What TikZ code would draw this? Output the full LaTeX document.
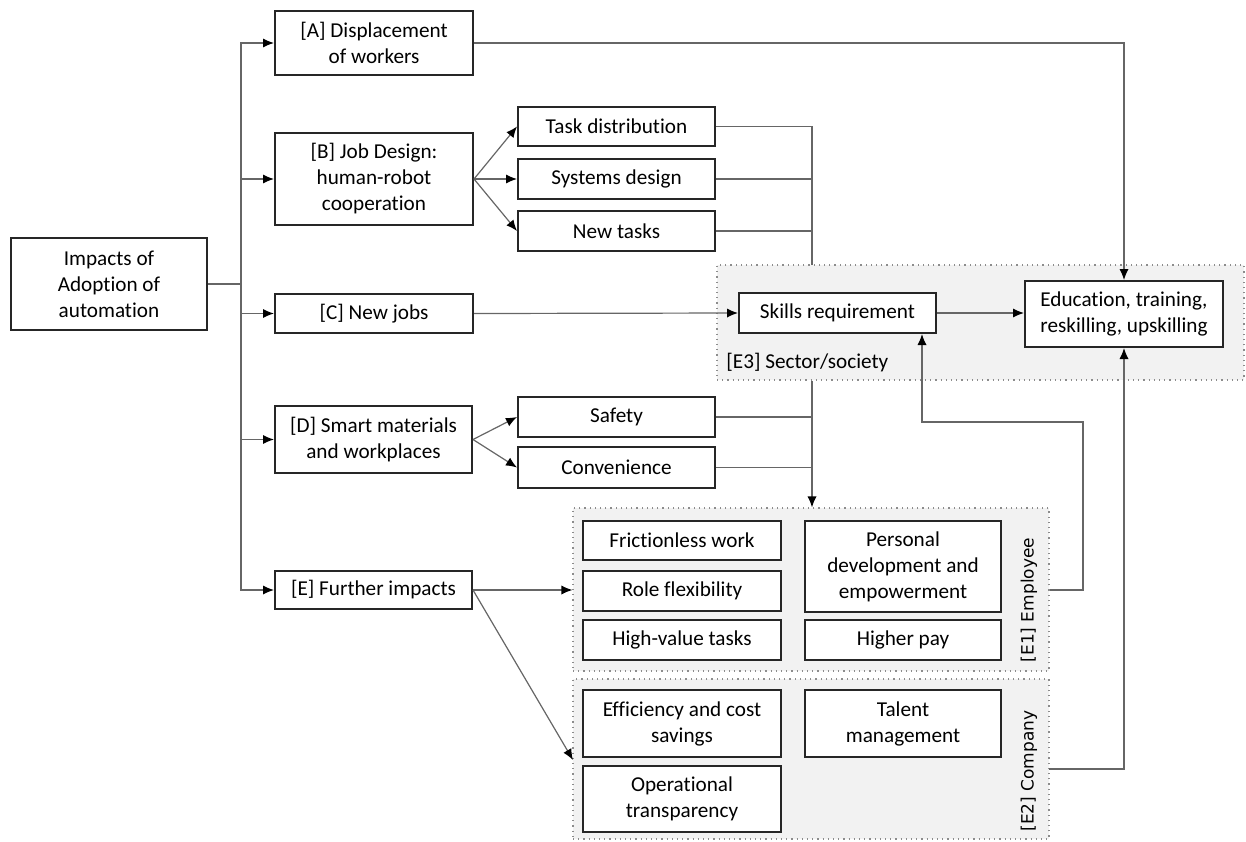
\documentclass[tikz,border=0pt]{standalone}
\usepackage{fontspec}
\setmainfont[Ligatures={NoCommon,NoRare,NoContextual}]{Carlito}
\newfontfamily\vfont{DejaVu Sans}
\usetikzlibrary{arrows.meta}
\tikzset{
 box/.style={draw=black!85, line width=1pt, fill=white, align=center, inner sep=0pt, font=\fontsize{10.6}{13}\selectfont},
 frame/.style={draw=black!45, dotted, line width=0.6pt, fill=black!5, inner sep=0pt},
 conn/.style={draw=black!60, line width=0.6pt},
 arr/.style={conn, -{Latex[length=5.5pt,width=4.6pt,color=black]}},
 vlab/.style={rotate=90, font=\vfont\fontsize{8.5}{10}\selectfont, text=black},
 flab/.style={anchor=west, inner sep=0pt, font=\fontsize{10.6}{13}\selectfont, text=black},
}
\newcommand\rbox[7][box]{\node[#1, minimum width={(#5-#3)*0.5pt}, minimum height={(#6-#4)*0.5pt}] (#2) at ({(#3+#5)/2},{(#4+#6)/2}) {#7};}
\begin{document}
\begin{tikzpicture}[x=0.5pt,y=-0.5pt]
\useasboundingbox (0,0) rectangle (1246,841);
% frames
\rbox[frame]{e3}{717}{265}{1244}{380}{}
\rbox[frame]{e1}{573}{508}{1049}{671}{}
\rbox[frame]{e2}{573}{679}{1049}{839}{}
\node[flab] (e3l) at (726,363) {[E3] Sector/society};
\node[vlab] (e1l) at (1029,600) {[E1] Employee};
\node[vlab] (e2l) at (1029,771) {[E2] Company};
% boxes
\rbox{imp}{11}{238}{207}{330}{Impacts of\\Adoption of\\automation}
\rbox{A}{275}{11}{473}{75}{[A] Displacement\\of workers}
\rbox{B}{275}{133}{473}{225}{[B] Job Design:\\human-robot\\cooperation}
\rbox{C}{275}{294}{473}{333}{[C] New jobs}
\rbox{D}{275}{406}{472}{473}{[D] Smart materials\\and workplaces}
\rbox{E}{275}{571}{472}{609}{[E] Further impacts}
\rbox{td}{518}{107}{715}{146}{Task distribution}
\rbox{sd}{518}{159}{715}{199}{Systems design}
\rbox{nt}{518}{211}{715}{251}{New tasks}
\rbox{saf}{518}{397}{715}{437}{Safety}
\rbox{con}{518}{447}{715}{488}{Convenience}
\rbox{sk}{739}{293}{936}{333}{Skills requirement}
\rbox{edu}{1025}{281}{1223}{347}{Education, training,\\reskilling, upskilling}
\rbox{fw}{583}{521}{781}{560}{Frictionless work}
\rbox{rf}{583}{571}{781}{611}{Role flexibility}
\rbox{hv}{583}{620}{781}{660}{High-value tasks}
\rbox{pd}{805}{521}{1001}{612}{Personal\\development and\\empowerment}
\rbox{hp}{805}{620}{1001}{660}{Higher pay}
\rbox{ec}{583}{690}{781}{757}{Efficiency and cost\\savings}
\rbox{tm}{805}{690}{1001}{757}{Talent\\management}
\rbox{ot}{583}{766}{781}{832}{Operational\\transparency}
% coordinates
\coordinate (tr) at (241,284);
\coordinate (m1) at (812,265);
\coordinate (k1) at (1083,422);
\coordinate (k2) at (922,422);
\coordinate (e2in) at (573,760);
\coordinate (e2out) at (1049,769);
% connectors
\draw[conn] (imp.east) -- (tr);
\foreach \n in {A,B,C,D,E} {\draw[arr] (tr) |- (\n.west);}
\draw[arr] (A.east) -| (edu.north);
\draw[arr] (B.east) -- (td.west);
\draw[arr] (B.east) -- (sd.west);
\draw[arr] (B.east) -- (nt.west);
\draw[conn] (td.east) -| (m1);
\draw[conn] (sd.east) -- (sd.east -| m1);
\draw[conn] (nt.east) -- (nt.east -| m1);
\draw[arr] (m1 |- e3.south) -- (m1 |- e1.north);
\draw[arr] (D.east) -- (saf.west);
\draw[arr] (D.east) -- (con.west);
\draw[conn] (saf.east) -- (saf.east -| m1);
\draw[conn] (con.east) -- (con.east -| m1);
\draw[arr] (C.east) -- (sk.west);
\draw[arr] (sk.east) -- (sk.east -| edu.west);
\draw[arr] (E.east) -- (E.east -| e1.west);
\draw[arr] (E.east) -- (e2in);
\draw[arr] (E.east -| e1.east) -| (k1) -- (k2) -- (k2 |- sk.south);
\draw[arr] (e2out) -| (edu.south);
\end{tikzpicture}
\end{document}
